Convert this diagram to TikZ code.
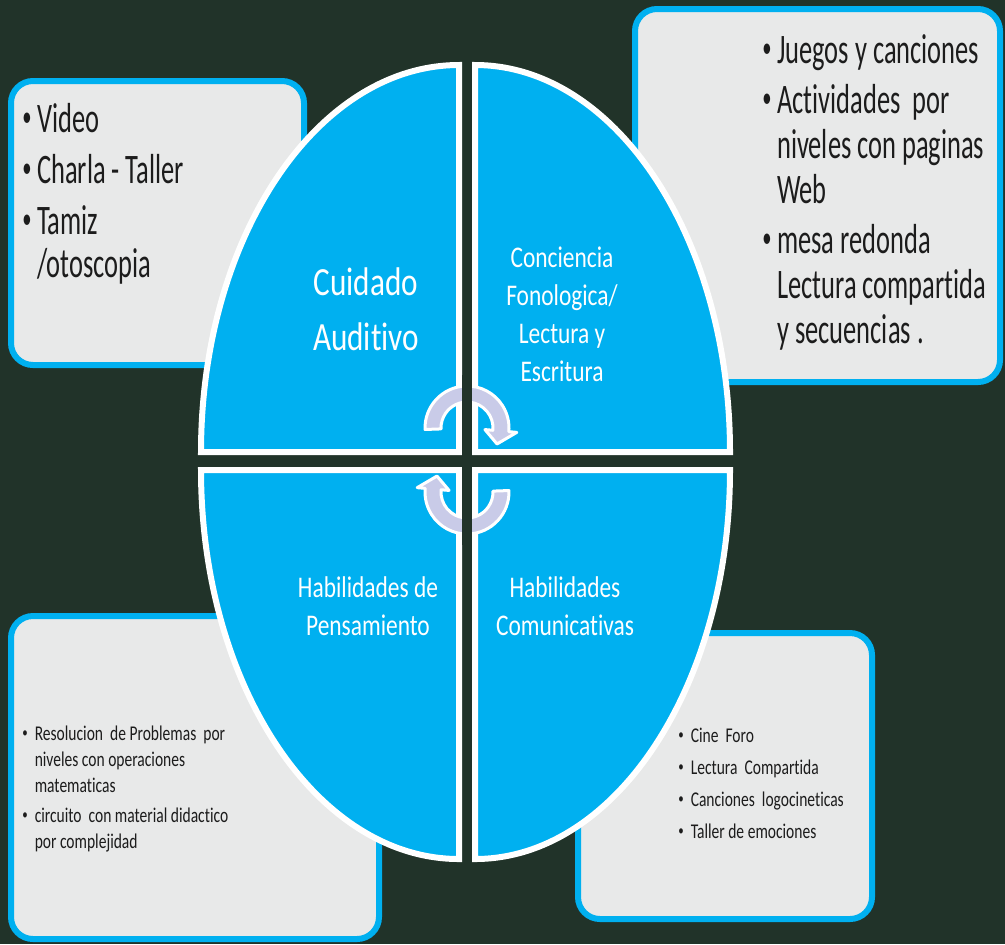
\documentclass[tikz,border=0pt]{standalone}
\usepackage{fontspec}
\setmainfont[Ligatures=NoCommon]{Carlito}
\newfontfamily\boxfont[FakeStretch=0.63, Ligatures=NoCommon]{Carlito}
\newfontfamily\notefont[FakeStretch=0.74, Ligatures=NoCommon]{Carlito}
\newfontfamily\partfont[FakeStretch=0.78, Ligatures=NoCommon]{Carlito}
\usepackage{tikz}
\usetikzlibrary{calc}
\definecolor{board}{HTML}{213329}
\definecolor{skyblue}{HTML}{00B0F0}
\definecolor{boxgray}{HTML}{E8E9E9}
\definecolor{arrowgray}{HTML}{C9CBE8}
\definecolor{ink}{HTML}{1C1C1C}
\newcommand{\bul}{\makebox[0.35em][l]{\raisebox{0.12em}{\scalebox{0.7}{•}}}}
\tikzstyle{card} = [draw=skyblue, fill=boxgray, line width=3pt, rounded corners=11pt]
\tikzstyle{part} = [fill=skyblue, draw=white, line width=3pt]
\tikzstyle{turn} = [fill=arrowgray, draw=white, line width=1.5pt, line join=round]
\tikzstyle{list} = [inner sep=0pt, anchor=base west, text=ink]
\tikzstyle{title} = [inner sep=0pt, anchor=base, text=white]

\begin{document}
\begin{tikzpicture}[x=0.5pt, y=-0.5pt]
        \fill[board] (0,0) rectangle (1005,944);
        \useasboundingbox (0,0) rectangle (1005,944);
        % side boxes
        \draw[card] (11,81) rectangle (304,365);
        \draw[card] (635,9) rectangle (1000,382);
        \draw[card] (11,616) rectangle (379,939);
        \draw[card] (578,633) rectangle (872,919);
        % the four parts of the oval
        \draw[part] (459,452) -- (201,452) arc[start angle=180, end angle=270, x radius=258, y radius=387] -- cycle;
        \draw[part] (475,452) -- (475,65) arc[start angle=270, end angle=360, x radius=255, y radius=387] -- cycle;
        \draw[part] (475,470) -- (730,470) arc[start angle=0, end angle=90, x radius=255, y radius=389] -- cycle;
        \draw[part] (459,470) -- (459,859) arc[start angle=90, end angle=180, x radius=258, y radius=389] -- cycle;
        % turning arrows
        \coordinate (up) at (467,428);
        \coordinate (down) at (467,492);
        \draw[turn] ($(up)+(178:42)$) arc[start angle=178, end angle=365, radius=42]
            -- ($(up)+(365:50)$) -- ($(up)+(388:34)$) -- ($(up)+(365:18)$)
            -- ($(up)+(365:26)$) arc[start angle=365, end angle=178, radius=26] -- cycle;
        \draw[turn] ($(down)+(-2:42)$) arc[start angle=-2, end angle=185, radius=42]
            -- ($(down)+(185:50)$) -- ($(down)+(208:34)$) -- ($(down)+(185:18)$)
            -- ($(down)+(185:26)$) arc[start angle=185, end angle=-2, radius=26] -- cycle;
        \fill[board] (462,375) rectangle (472,545);
        % titles
        \node[title, font=\partfont\fontsize{20}{27.5}\selectfont] (hearing) at (366,295)
            {\begin{tabular}[t]{@{}c@{}}Cuidado\\Auditivo\end{tabular}};
        \node[title, font=\partfont\fontsize{15}{19}\selectfont] (reading) at (562,267)
            {\begin{tabular}[t]{@{}c@{}}Conciencia\\Fonologica/\\Lectura y\\Escritura\end{tabular}};
        \node[title, font=\partfont\fontsize{15}{19}\selectfont] (thinking) at (368,597)
            {\begin{tabular}[t]{@{}c@{}}Habilidades de\\Pensamiento\end{tabular}};
        \node[title, font=\partfont\fontsize{15}{19}\selectfont] (speaking) at (565,597)
            {\begin{tabular}[t]{@{}c@{}}Habilidades\\Comunicativas\end{tabular}};
        % lists
        \node[list, font=\boxfont\fontsize{21}{21.5}\selectfont] (care) at (22,132)
            {\begin{tabular}[t]{@{}l@{}l@{}}\bul&Video\\[4pt] \bul&Charla - Taller\\[4pt] \bul&Tamiz\\ &/otoscopia\end{tabular}};
        \node[list, font=\boxfont\fontsize{21}{22.5}\selectfont] (games) at (762,63)
            {\begin{tabular}[t]{@{}l@{}l@{}}\bul&Juegos y canciones\\[2.5pt] \bul&Actividades~~por\\ &niveles con paginas\\ &Web\\[2.5pt] \bul&mesa redonda\\ &Lectura compartida\\ &y secuencias .\end{tabular}};
        \node[list, font=\notefont\fontsize{10.5}{13}\selectfont] (tasks) at (22,740)
            {\begin{tabular}[t]{@{}l@{\hspace{2.5pt}}l@{}}\bul&Resolucion~~de Problemas~~por\\ &niveles con operaciones\\ &matematicas\\[2pt] \bul&circuito~~con material didactico\\ &por complejidad\end{tabular}};
        \node[list, font=\notefont\fontsize{10.5}{13}\selectfont] (talks) at (678,742)
            {\begin{tabular}[t]{@{}l@{\hspace{2.5pt}}l@{}}\bul&Cine~~Foro\\[3pt] \bul&Lectura~~Compartida\\[3pt] \bul&Canciones~~logocineticas\\[3pt] \bul&Taller de emociones\end{tabular}};
\end{tikzpicture}
\end{document}
